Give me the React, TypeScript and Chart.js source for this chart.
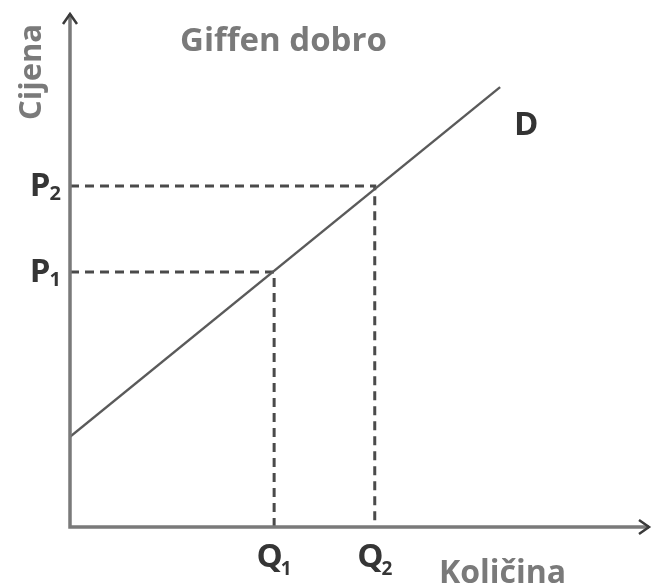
import React, { useEffect, useRef } from "react";
import { Chart, registerables } from "chart.js";

Chart.register(...registerables);

// ---- data (axis units 0..100) ----
const demandX = [0, 74.8];
const demandY = [17.6, 85.9];
const quantities = [35.5, 53.0]; // Q1, Q2
const prices = [49.8, 66.6]; // P1, P2
const priceLabelBase = ["P", "P"];
const priceLabelSub = ["1", "2"];
const qtyLabelBase = ["Q", "Q"];
const qtyLabelSub = ["1", "2"];
const titleText = "Giffen dobro";
const yAxisTitle = "Cijena";
const xAxisTitle = "Količina";
const curveLabel = "D";

const FONT = "'Open Sans', 'DejaVu Sans', sans-serif";

const overlay = {
  id: "econOverlay",
  afterDatasetsDraw(chart: any) {
    const { ctx, chartArea, scales } = chart;
    const xs = scales.x;
    const ys = scales.y;
    const ox = xs.getPixelForValue(0);
    const oy = ys.getPixelForValue(0);
    const top = chartArea.top - 1;
    const right = chartArea.right + 4;
    ctx.save();
    // axes
    ctx.strokeStyle = "#7a7a7a";
    ctx.lineWidth = 3.5;
    ctx.lineCap = "butt";
    ctx.beginPath();
    ctx.moveTo(ox, oy + 1.75);
    ctx.lineTo(ox, top);
    ctx.moveTo(ox - 1.75, oy);
    ctx.lineTo(right, oy);
    ctx.stroke();
    // arrowheads
    ctx.lineWidth = 2.5;
    ctx.strokeStyle = "#3a3a3a";
    ctx.beginPath();
    ctx.moveTo(ox - 7, top + 10);
    ctx.lineTo(ox, top);
    ctx.lineTo(ox + 7, top + 10);
    ctx.moveTo(right - 10, oy - 7);
    ctx.lineTo(right, oy);
    ctx.lineTo(right - 10, oy + 7);
    ctx.stroke();

    // price labels
    ctx.textBaseline = "alphabetic";
    prices.forEach((p, i) => {
      const py = ys.getPixelForValue(p);
      ctx.fillStyle = "#353535";
      ctx.font = `bold 33px ${FONT}`;
      ctx.textAlign = "left";
      const bw = ctx.measureText(priceLabelBase[i]).width;
      ctx.font = `bold 20px ${FONT}`;
      const sw = ctx.measureText(priceLabelSub[i]).width;
      const endX = ox - 9;
      const startX = endX - bw - sw + 1;
      ctx.font = `bold 33px ${FONT}`;
      ctx.fillText(priceLabelBase[i], startX, py + 10);
      ctx.font = `bold 20px ${FONT}`;
      ctx.fillText(priceLabelSub[i], startX + bw - 1, py + 14);
    });
    // quantity labels
    quantities.forEach((q, i) => {
      const qx = xs.getPixelForValue(q);
      ctx.fillStyle = "#353535";
      ctx.font = `bold 33px ${FONT}`;
      ctx.textAlign = "left";
      const bw = ctx.measureText(qtyLabelBase[i]).width;
      ctx.font = `bold 19px ${FONT}`;
      const sw = ctx.measureText(qtyLabelSub[i]).width;
      const startX = qx - (bw + sw) / 2 + 1;
      ctx.font = `bold 33px ${FONT}`;
      ctx.fillText(qtyLabelBase[i], startX, oy + 40);
      ctx.font = `bold 19px ${FONT}`;
      ctx.fillText(qtyLabelSub[i], startX + bw - 2, oy + 48);
    });
    // curve label
    ctx.fillStyle = "#333333";
    ctx.font = `bold 33px ${FONT}`;
    ctx.textAlign = "left";
    ctx.fillText(curveLabel, 514, 135);
    // title
    ctx.fillStyle = "#7a7a7a";
    ctx.font = `bold 33px ${FONT}`;
    ctx.fillText(titleText, 180, 51);
    // x axis title
    ctx.font = `bold 32px ${FONT}`;
    ctx.fillText(xAxisTitle, 439, 583);
    // y axis title rotated
    ctx.save();
    ctx.translate(41, 120);
    ctx.rotate(-Math.PI / 2);
    ctx.font = `bold 31px ${FONT}`;
    ctx.textAlign = "left";
    ctx.fillText(yAxisTitle, 0, 0);
    ctx.restore();
    ctx.restore();
  },
};

export default function App() {
  const ref = useRef<HTMLCanvasElement | null>(null);
  useEffect(() => {
    document.body.style.margin = "0";
    const guides = quantities.map((q, i) => ({
      data: [
        { x: 0, y: prices[i] },
        { x: q, y: prices[i] },
        { x: q, y: 0 },
      ],
      borderColor: "#4a4a4a",
      borderWidth: 3,
      borderDash: [9, 6],
      pointRadius: 0,
      showLine: true,
      fill: false,
    }));
    const chart = new Chart(ref.current!, {
      type: "scatter",
      data: {
        datasets: [
          {
            data: demandX.map((x, i) => ({ x, y: demandY[i] })),
            borderColor: "#5a5a5a",
            borderWidth: 2.4,
            pointRadius: 0,
            showLine: true,
            fill: false,
          },
          ...guides,
        ],
      },
      options: {
        animation: false,
        responsive: false,
        maintainAspectRatio: false,
        layout: { padding: { left: 70, right: 7, top: 15, bottom: 60 } },
        plugins: { legend: { display: false }, tooltip: { enabled: false }, title: { display: false } },
        scales: {
          x: { type: "linear", min: 0, max: 100, display: false },
          y: { type: "linear", min: 0, max: 100, display: false },
        },
      },
      plugins: [overlay],
    });
    return () => chart.destroy();
  }, []);
  return (
    <div style={{ position: "absolute", left: 0, top: 0, width: 652, height: 587, background: "#fff" }}>
      <canvas ref={ref} width={652} height={587} style={{ display: "block" }} />
    </div>
  );
}
